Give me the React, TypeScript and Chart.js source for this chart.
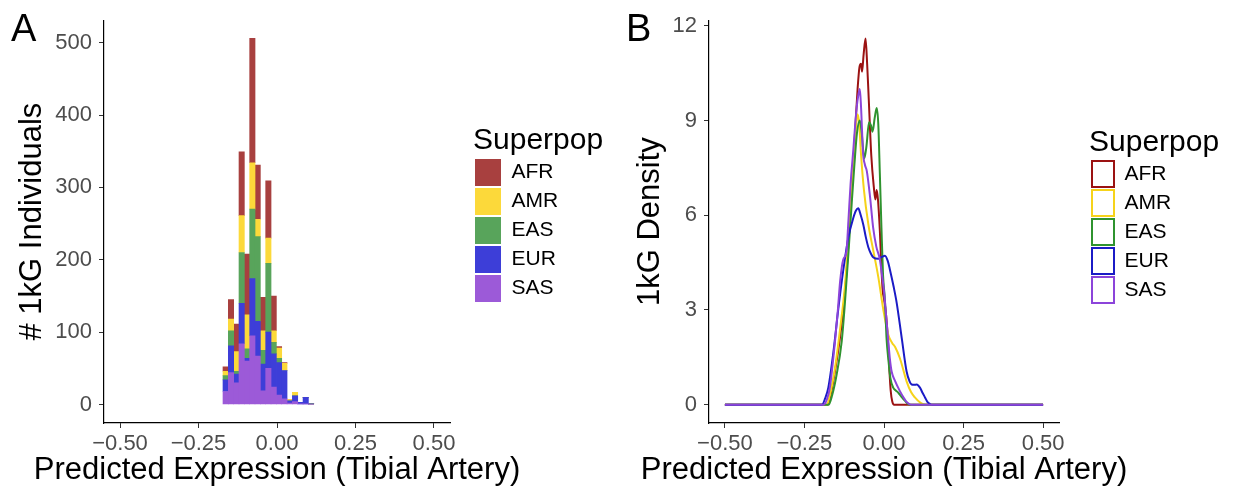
import React, { useEffect, useRef } from 'react';
import { Chart, registerables } from 'chart.js';

Chart.register(...registerables);

// ---------- data ----------
const POPULATIONS = ['AFR', 'AMR', 'EAS', 'EUR', 'SAS'];

// histogram bins (centres of bins, width ~0.017)
const BIN_CENTERS = [-0.1635, -0.1465, -0.1295, -0.1125, -0.0955, -0.0785, -0.0615, -0.0445, -0.0275, -0.0105, 0.0065, 0.0235, 0.0405, 0.0575, 0.0745, 0.0915, 0.1085];
const COUNT_AFR = [6, 27, 38, 88, 84, 172, 75, 46, 79, 48, 2, 1, 0, 0, 0, 0, 0];
const COUNT_AMR = [6, 16, 27, 51, 47, 64, 24, 27, 35, 16, 14, 10, 2, 5, 0, 0, 0];
const COUNT_EAS = [6, 21, 4, 70, 13, 96, 117, 19, 95, 16, 6, 0, 0, 0, 0, 0, 0];
const COUNT_EUR = [16, 37, 12, 56, 4, 79, 48, 37, 50, 46, 45, 39, 3, 8, 2, 9, 1];
const COUNT_SAS = [18, 44, 30, 84, 60, 95, 67, 19, 50, 24, 13, 8, 2, 4, 1, 1, 0];

// density curves
const DENS_AFR_X = [-0.5, -0.178, -0.168, -0.155, -0.14, -0.125, -0.115, -0.107, -0.098, -0.09, -0.083, -0.077, -0.072, -0.069, -0.064, -0.058, -0.053, -0.048, -0.04, -0.032, -0.027, -0.023, -0.019, -0.013, -0.008, -0.004, 0.0, 0.006, 0.012, 0.017, 0.021, 0.026, 0.032, 0.5];
const DENS_AFR_Y = [0, 0, 0.3, 1.0, 2.0, 3.3, 4.6, 5.9, 7.4, 8.8, 10.0, 10.7, 10.8, 10.55, 11.1, 11.6, 10.8, 9.7, 7.9, 6.9, 6.5, 6.8, 6.5, 5.5, 4.3, 3.6, 3.35, 2.9, 2.1, 1.1, 0.45, 0.1, 0, 0];

const DENS_AMR_X = [-0.5, -0.18, -0.17, -0.154, -0.138, -0.123, -0.112, -0.1, -0.09, -0.083, -0.078, -0.072, -0.063, -0.049, -0.034, -0.018, -0.002, 0.014, 0.026, 0.035, 0.05, 0.071, 0.085, 0.097, 0.115, 0.13, 0.5];
const DENS_AMR_Y = [0, 0, 0.3, 1.16, 2.4, 3.74, 5.3, 7.1, 8.6, 9.2, 8.9, 7.9, 6.8, 5.7, 4.9, 4.05, 3.0, 2.2, 1.95, 1.83, 1.47, 0.74, 0.4, 0.23, 0.06, 0, 0];

const DENS_EAS_X = [-0.5, -0.174, -0.163, -0.149, -0.133, -0.123, -0.112, -0.102, -0.093, -0.085, -0.076, -0.07, -0.062, -0.055, -0.047, -0.041, -0.036, -0.029, -0.023, -0.018, -0.013, -0.008, -0.003, 0.003, 0.008, 0.014, 0.02, 0.029, 0.037, 0.045, 0.055, 0.066, 0.078, 0.085, 0.5];
const DENS_EAS_Y = [0, 0, 0.3, 0.95, 2.0, 3.2, 4.77, 6.3, 7.6, 8.6, 9.0, 8.6, 7.8, 8.2, 8.95, 8.85, 8.65, 9.1, 9.4, 8.9, 7.3, 5.6, 4.1, 3.3, 2.1, 1.4, 0.85, 0.54, 0.45, 0.38, 0.25, 0.12, 0.01, 0, 0];

const DENS_EUR_X = [-0.5, -0.195, -0.185, -0.175, -0.159, -0.144, -0.128, -0.112, -0.097, -0.088, -0.081, -0.073, -0.065, -0.057, -0.049, -0.041, -0.034, -0.018, -0.007, 0.003, 0.012, 0.019, 0.03, 0.04, 0.056, 0.071, 0.08, 0.087, 0.095, 0.103, 0.113, 0.121, 0.129, 0.137, 0.145, 0.152, 0.5];
const DENS_EUR_Y = [0, 0, 0.2, 0.54, 1.67, 3.0, 4.26, 5.3, 5.9, 6.15, 6.22, 6.0, 5.7, 5.3, 4.98, 4.78, 4.67, 4.62, 4.68, 4.72, 4.55, 4.26, 3.75, 3.22, 2.09, 1.05, 0.75, 0.64, 0.63, 0.64, 0.54, 0.38, 0.23, 0.08, 0.02, 0, 0];

const DENS_SAS_X = [-0.5, -0.19, -0.18, -0.17, -0.154, -0.145, -0.138, -0.128, -0.118, -0.112, -0.105, -0.097, -0.086, -0.08, -0.076, -0.072, -0.066, -0.06, -0.054, -0.044, -0.034, -0.024, -0.013, -0.005, 0.0, 0.006, 0.012, 0.018, 0.024, 0.035, 0.05, 0.062, 0.07, 0.08, 0.088, 0.5];
const DENS_SAS_Y = [0, 0, 0.15, 0.55, 2.0, 3.0, 3.9, 4.6, 4.85, 5.8, 7.0, 8.0, 9.4, 9.85, 10.0, 9.4, 8.0, 7.6, 7.4, 6.6, 5.6, 5.0, 4.6, 4.0, 3.6, 2.9, 2.2, 1.5, 1.05, 0.75, 0.43, 0.22, 0.1, 0.02, 0, 0];

const X_TICKS = [-0.5, -0.25, 0, 0.25, 0.5];
const COUNT_TICKS = [0, 100, 200, 300, 400, 500];
const DENSITY_TICKS = [0, 3, 6, 9, 12];

const X_TITLE = 'Predicted Expression (Tibial Artery)';
const Y_TITLE_A = '# 1kG Individuals';
const Y_TITLE_B = '1kG Density';
const LEGEND_TITLE = 'Superpop';

// ---------- styles ----------
const FONT = '"Liberation Sans", Arial, Helvetica, sans-serif';
const FILL_COLORS: Record<string, string> = {
  AFR: '#A8403F', AMR: '#FCD93A', EAS: '#58A45B', EUR: '#3D3ED8', SAS: '#9C5AD8',
};
const LINE_COLORS: Record<string, string> = {
  AFR: '#9B1212', AMR: '#F6D31A', EAS: '#2F932F', EUR: '#1B1BC6', SAS: '#8C44DA',
};
const TICK_FONT = 22;
const AXIS_TITLE_FONT = 31;
const LEG_TITLE_FONT = 30;
const LEG_FONT = 21;
const TICK_COLOR = '#4D4D4D';

const fmtX = (v: number) => (v < -1e-9 ? '\u2212' : '') + Math.abs(v).toFixed(2);
const fmtInt = (v: number) => String(Math.round(v));

function axisCommon(ticks: number[], fmt: (v: number) => string, pad: number) {
  return {
    type: 'linear' as const,
    afterBuildTicks: (s: any) => {
      s.ticks = ticks.map((v) => ({ value: v }));
    },
    grid: {
      display: true,
      drawOnChartArea: false,
      drawTicks: true,
      tickLength: 5,
      color: '#333333',
      lineWidth: 1,
      offset: false,
    },
    border: { display: true, color: '#000000', width: 1.2 },
    ticks: {
      autoSkip: false,
      maxRotation: 0,
      minRotation: 0,
      padding: pad,
      color: TICK_COLOR,
      font: { family: FONT, size: TICK_FONT },
      callback: (v: any) => fmt(Number(v)),
    },
  };
}

// legend box fixed to a given width (so the title is not clipped)
const legendWidthPlugin = {
  id: 'legendWidth',
  beforeLayout(chart: any, _args: any, opts: any) {
    const lg = chart.legend;
    if (lg && !lg.__fixedWidth) {
      const orig = lg.fit.bind(lg);
      lg.fit = () => {
        orig();
        lg.width = opts.width;
      };
      lg.__fixedWidth = true;
    }
  },
};

// x-axis title drawn at its natural width, centred under the panel
const xTitlePlugin = {
  id: 'xTitle',
  afterDraw(chart: any, _args: any, opts: any) {
    const { ctx, chartArea } = chart;
    ctx.save();
    ctx.font = `${opts.size}px ${FONT}`;
    ctx.fillStyle = '#000';
    ctx.textAlign = 'center';
    ctx.textBaseline = 'middle';
    ctx.fillText(opts.text, (chartArea.left + chartArea.right) / 2, opts.y);
    ctx.restore();
  },
};

const ORDER = ['SAS', 'EUR', 'EAS', 'AMR', 'AFR']; // bottom of stack / drawn on top first
const COUNTS: Record<string, number[]> = {
  AFR: COUNT_AFR, AMR: COUNT_AMR, EAS: COUNT_EAS, EUR: COUNT_EUR, SAS: COUNT_SAS,
};
const DENS: Record<string, [number[], number[]]> = {
  AFR: [DENS_AFR_X, DENS_AFR_Y], AMR: [DENS_AMR_X, DENS_AMR_Y], EAS: [DENS_EAS_X, DENS_EAS_Y],
  EUR: [DENS_EUR_X, DENS_EUR_Y], SAS: [DENS_SAS_X, DENS_SAS_Y],
};

function legendOptions(boxW: number, boxH: number, pad: number, titleTop: number, titleBottom: number) {
  return {
    display: true,
    position: 'right',
    align: 'start',
    reverse: true,
    title: {
      display: true,
      text: LEGEND_TITLE,
      position: 'start',
      color: '#000',
      font: { family: FONT, size: LEG_TITLE_FONT, lineHeight: 1 },
      padding: { top: titleTop, bottom: titleBottom },
    },
    labels: {
      boxWidth: boxW,
      boxHeight: boxH,
      padding: pad,
      color: '#000',
      font: { family: FONT, size: LEG_FONT },
    },
  };
}

function yTitle(text: string, padTop: number) {
  return {
    display: true,
    text,
    color: '#000',
    font: { family: FONT, size: AXIS_TITLE_FONT },
    padding: { top: padTop, bottom: 0 },
  };
}

export default function App() {
  const refA = useRef<HTMLCanvasElement>(null);
  const refB = useRef<HTMLCanvasElement>(null);

  useEffect(() => {
    // ---------------- Panel A ----------------
    const WA = 620;
    const legLeftA = 473;
    const plotRightA = 450;

    const chartA = new Chart(refA.current!, {
      type: 'bar',
      data: {
        datasets: ORDER.map((p) => ({
          label: p,
          data: BIN_CENTERS.map((x, i) => ({ x, y: COUNTS[p][i] })),
          backgroundColor: FILL_COLORS[p],
          borderWidth: 0,
          barPercentage: 1,
          categoryPercentage: 1,
          xAxisID: 'x',
          yAxisID: 'y',
        })),
      },
      plugins: [legendWidthPlugin, xTitlePlugin],
      options: {
        responsive: false,
        animation: false,
        layout: { padding: { left: 0, top: 10, right: 0, bottom: 0 } },
        plugins: {
          tooltip: { enabled: false },
          legend: legendOptions(26, 27, 2, 116, 1),
          legendWidth: { width: WA - legLeftA },
          xTitle: { text: X_TITLE, size: AXIS_TITLE_FONT, y: 470 },
        },
        scales: {
          x: {
            ...axisCommon(X_TICKS, fmtX, 3),
            stacked: true,
            offset: false,
            min: -0.551,
            max: 0.551,
            afterFit: (s: any) => { s.height = 67; },
            title: { display: false },
          },
          y: {
            ...axisCommon(COUNT_TICKS, fmtInt, 7),
            stacked: true,
            min: -25.5,
            max: 531,
            afterFit: (s: any) => { s.width = 104; },
            title: yTitle(Y_TITLE_A, 14),
          },
          y2: {
            type: 'linear',
            position: 'right',
            display: true,
            grid: { display: false },
            border: { display: false },
            ticks: { display: false },
            afterFit: (s: any) => { s.width = legLeftA - plotRightA; },
          },
        },
      } as any,
    });

    // ---------------- Panel B ----------------
    const WB = 613;
    const legLeftB = 469;
    const plotRightB = 439;

    const chartB = new Chart(refB.current!, {
      type: 'line',
      data: {
        datasets: ORDER.map((p) => ({
          label: p,
          data: DENS[p][0].map((x, i) => ({ x, y: DENS[p][1][i] })),
          borderColor: LINE_COLORS[p],
          backgroundColor: '#FFFFFF',
          borderWidth: 2,
          pointRadius: 0,
          fill: false,
          cubicInterpolationMode: 'monotone',
          xAxisID: 'x',
          yAxisID: 'y',
        })),
      },
      plugins: [legendWidthPlugin, xTitlePlugin],
      options: {
        responsive: false,
        animation: false,
        layout: { padding: { left: 0, top: 11, right: 0, bottom: 0 } },
        plugins: {
          tooltip: { enabled: false },
          legend: legendOptions(22, 26, 3, 117, 0),
          legendWidth: { width: WB - legLeftB },
          xTitle: { text: X_TITLE, size: AXIS_TITLE_FONT, y: 470 },
        },
        scales: {
          x: {
            ...axisCommon(X_TICKS, fmtX, 3),
            min: -0.55,
            max: 0.55,
            afterFit: (s: any) => { s.height = 67; },
            title: { display: false },
          },
          y: {
            ...axisCommon(DENSITY_TICKS, fmtInt, 7),
            min: -0.58,
            max: 12.18,
            afterFit: (s: any) => { s.width = 89; },
            title: yTitle(Y_TITLE_B, 12),
          },
          y2: {
            type: 'linear',
            position: 'right',
            display: true,
            grid: { display: false },
            border: { display: false },
            ticks: { display: false },
            afterFit: (s: any) => { s.width = legLeftB - plotRightB; },
          },
        },
      } as any,
    });

    return () => {
      chartA.destroy();
      chartB.destroy();
    };
  }, []);

  const letter: React.CSSProperties = {
    position: 'absolute',
    top: 9,
    fontFamily: FONT,
    fontSize: 38,
    lineHeight: '38px',
    color: '#000',
  };

  return (
    <div style={{ position: 'fixed', left: 0, top: 0, width: 1233, height: 490, background: '#fff', overflow: 'hidden' }}>
      <canvas ref={refA} width={620} height={490} style={{ position: 'absolute', left: 0, top: 0 }} />
      <canvas ref={refB} width={613} height={490} style={{ position: 'absolute', left: 620, top: 0 }} />
      <div style={{ ...letter, left: 11 }}>A</div>
      <div style={{ ...letter, left: 626 }}>B</div>
    </div>
  );
}
